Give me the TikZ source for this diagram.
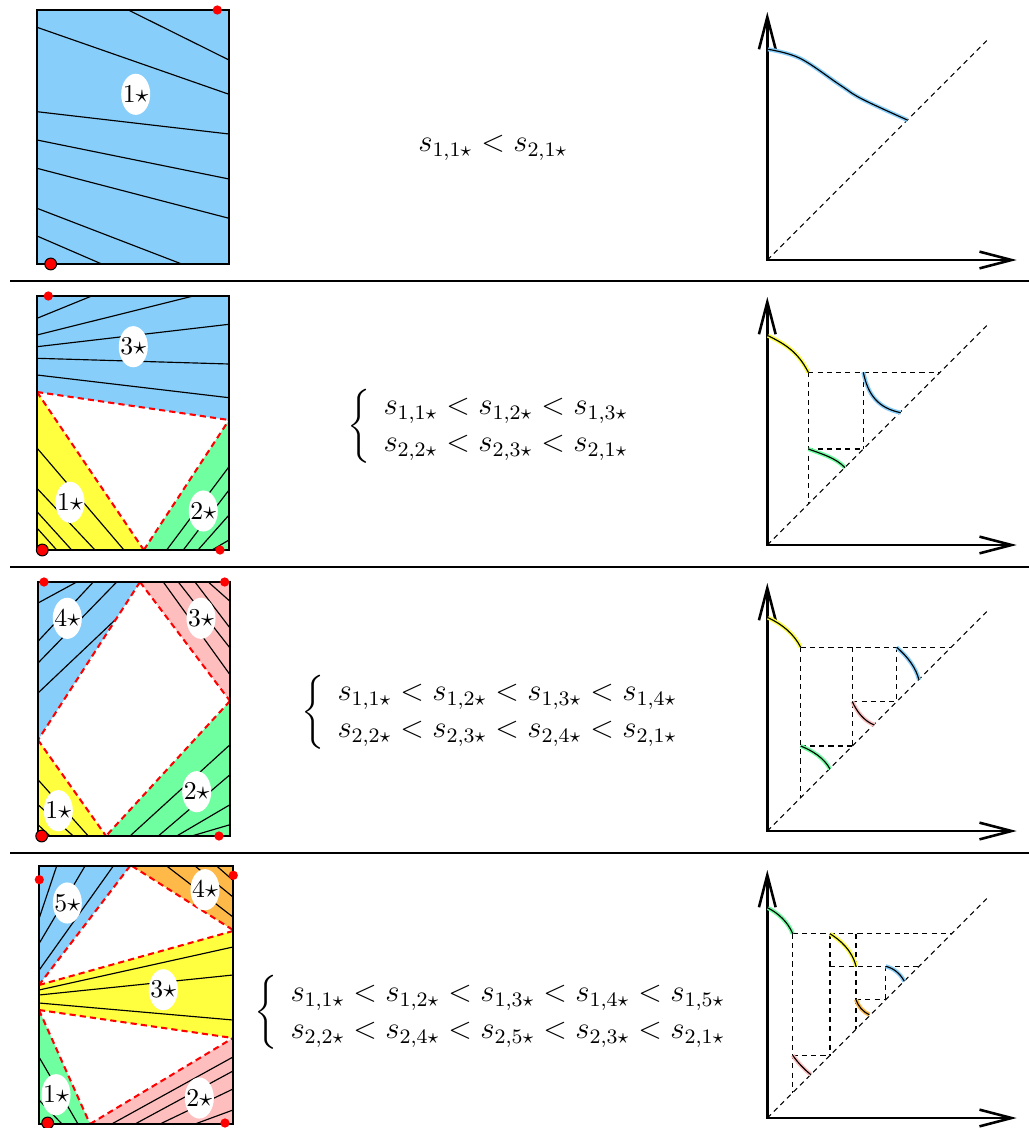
\documentclass[tikz,border=0pt]{standalone}
\usepackage{amsmath}
\usetikzlibrary{arrows.meta,shapes.geometric}
\definecolor{cblue}{RGB}{135,206,250}
\definecolor{cyellow}{RGB}{255,255,64}
\definecolor{cgreen}{RGB}{112,255,160}
\definecolor{cpink}{RGB}{255,190,190}
\definecolor{corange}{RGB}{255,185,72}
\tikzset{
 box/.style={draw=black, line width=0.8pt},
 flow/.style={black, line width=0.45pt},
 sep/.style={red, line width=0.8pt, dash pattern=on 2.4pt off 1.6pt},
 lab/.style={ellipse, fill=white, minimum width=11.3pt, minimum height=16pt, inner sep=0pt},
 sdot/.style={circle, fill=red, minimum size=3.6pt, inner sep=0pt},
 bdot/.style={circle, fill=red, draw=black, line width=0.4pt, minimum size=4.6pt, inner sep=0pt},
 axis/.style={line width=1pt, {Straight Barb[length=12.5pt,width=6.5pt]}-{Straight Barb[length=12.5pt,width=6.5pt]}},
 diag/.style={line width=0.4pt, dash pattern=on 2pt off 1.6pt},
 grid/.style={line width=0.45pt, dash pattern=on 2pt off 1.6pt},
 curve/.style={black, line width=0.45pt, preaction={draw=#1, line width=1.6pt}},
 rule/.style={line width=0.6pt},
 formula/.style={inner sep=0pt, font=\fontsize{11.5}{12}\selectfont}
}
\newcommand{\lbl}[1]{\makebox[0pt]{$#1\star$}}
\begin{document}
\begin{tikzpicture}[x=0.389pt,y=-0.389pt]
\useasboundingbox (0,0) rectangle (1029,1128);
% separators
\coordinate (r1a) at (10,281); \coordinate (r1b) at (1029,281);
\coordinate (r2a) at (10,567); \coordinate (r2b) at (1029,567);
\coordinate (r3a) at (10,853); \coordinate (r3b) at (1029,853);
\draw[rule] (r1a) -- (r1b);
\draw[rule] (r2a) -- (r2b);
\draw[rule] (r3a) -- (r3b);

% ================= ROW 1 =================
\fill[cblue] (37,10) rectangle (229,264);
\draw[flow] (128.3,10) -- (229,60);
\draw[flow] (37,27.3) -- (229,94.3);
\draw[flow] (37,111.7) -- (229,134);
\draw[flow] (37,140) -- (229,179);
\draw[flow] (37,168.3) -- (229,218.3);
\draw[flow] (37,208.3) -- (181.7,264);
\draw[flow] (37,236) -- (101.7,264);
\draw[box] (37,10) rectangle (229,264);
\node[lab] (a1) at (135.7,94.3) {\lbl{1}};
\node[sdot] (p1a) at (217.3,10) {};
\node[bdot] (p1b) at (50.7,264) {};
\node[formula] (f1) at (493,148) {$s_{1,1\star} < s_{2,1\star}$};
% graph 1
\coordinate (o1) at (767.3,260);
\coordinate (y1) at (767.3,12);
\coordinate (x1) at (1016.7,260);
\coordinate (d1) at (986.7,40.6);
\draw[diag] (o1) -- (d1);
\draw[axis] (y1) -- (o1) -- (x1);
\draw[curve=cblue] plot[smooth, tension=0.6] coordinates {(768,49.3) (800,58.3) (840,85) (862,99) (907.3,120)};

% ================= ROW 2 =================
\fill[cblue] (37,296) -- (229,296) -- (229,420) -- (37,392) -- cycle;
\fill[cyellow] (37,392) -- (143.8,550) -- (37,550) -- cycle;
\fill[cgreen] (143.8,550) -- (229,420) -- (229,550) -- cycle;
\draw[flow] (37,318.3) -- (91.7,296);
\draw[flow] (37,335) -- (193.3,296);
\draw[flow] (37,346.7) -- (229,324.3);
\draw[flow] (37,358.3) -- (229,364);
\draw[flow] (37,375) -- (229,397.7);
\draw[flow] (37,448) -- (124,550);
\draw[flow] (37,488.3) -- (95,550);
\draw[flow] (37,511.7) -- (71.7,550);
\draw[flow] (37,528) -- (56.7,550);
\draw[flow] (166.7,550) -- (229,466.7);
\draw[flow] (183.3,550) -- (229,490);
\draw[flow] (198,550) -- (229,515);
\draw[flow] (212,550) -- (229,540);
\draw[sep] (37,392) -- (229,420);
\draw[sep] (37,392) -- (143.8,550);
\draw[sep] (143.8,550) -- (229,420);
\draw[box] (37,296) rectangle (229,550);
\node[lab] (a3) at (133.3,346.7) {\lbl{3}};
\node[lab] (a1b) at (70,502.3) {\lbl{1}};
\node[lab] (a2) at (203.3,511) {\lbl{2}};
\node[sdot] (p2a) at (48.3,296) {};
\node[bdot] (p2b) at (42.3,550) {};
\node[sdot] (p2c) at (220,550) {};
\node[formula, anchor=west] (f2) at (347,426) {$\renewcommand\arraystretch{1.2}\left\{\begin{array}{l}
 s_{1,1\star} < s_{1,2\star} < s_{1,3\star}\\
 s_{2,2\star} < s_{2,3\star} < s_{2,1\star}\end{array}\right.$};
% graph 2
\coordinate (o2) at (767.3,545);
\coordinate (y2) at (767.3,297);
\coordinate (x2) at (1016.7,545);
\coordinate (d2) at (986.7,325.6);
\draw[diag] (o2) -- (d2);
\draw[axis] (y2) -- (o2) -- (x2);
\draw[grid] (808.3,372.3) -- (940,372.3);
\draw[grid] (808.3,372.3) -- (808.3,504);
\draw[grid] (863.3,372.3) -- (863.3,449);
\draw[grid] (808.3,449) -- (863.3,449);
\draw[curve=cyellow] (768,335.7) .. controls (785,344) and (798,352) .. (808.3,372.3);
\draw[curve=cblue] (863.3,372.3) .. controls (868,395) and (878,408) .. (900.7,412.7);
\draw[curve=cgreen] (808.3,449) .. controls (822,454) and (836,458) .. (845,467.7);

% ================= ROW 3 =================
\fill[cblue] (38,582) -- (140,582) -- (38,740) -- cycle;
\fill[cpink] (140,582) -- (230,582) -- (230,701) -- cycle;
\fill[cgreen] (230,701) -- (230,836) -- (106,836) -- cycle;
\fill[cyellow] (38,740) -- (106,836) -- (38,836) -- cycle;
\draw[flow] (38,603) -- (76.7,582);
\draw[flow] (38,641.3) -- (93.3,582);
\draw[flow] (38,663) -- (116.7,582);
\draw[flow] (38,693) -- (115,620);
\draw[flow] (163.3,582) -- (230,674.7);
\draw[flow] (178.3,582) -- (230,648);
\draw[flow] (195,582) -- (230,628);
\draw[flow] (208.3,582) -- (230,601.3);
\draw[flow] (130,836) -- (230,744.7);
\draw[flow] (158.3,836) -- (230,774.7);
\draw[flow] (176.7,836) -- (230,804.7);
\draw[flow] (191.7,836) -- (230,824.7);
\draw[flow] (38,779.7) -- (88.3,836);
\draw[flow] (38,804.7) -- (73.3,836);
\draw[flow] (38,824.7) -- (50,836);
\draw[sep] (140,582) -- (38,740);
\draw[sep] (140,582) -- (230,701);
\draw[sep] (230,701) -- (106,836);
\draw[sep] (38,740) -- (106,836);
\draw[box] (38,582) rectangle (230,836);
\node[lab] (b4) at (67.3,618.3) {\lbl{4}};
\node[lab] (b3) at (201,618.3) {\lbl{3}};
\node[lab] (b2) at (196.7,791.7) {\lbl{2}};
\node[lab] (b1) at (58.3,810.7) {\lbl{1}};
\node[sdot] (p3a) at (44,582) {};
\node[sdot] (p3b) at (224.7,582) {};
\node[bdot] (p3c) at (41.7,836) {};
\node[sdot] (p3d) at (219,836) {};
\node[formula, anchor=west] (f3) at (301,712) {$\renewcommand\arraystretch{1.2}\left\{\begin{array}{l}
 s_{1,1\star} < s_{1,2\star} < s_{1,3\star} < s_{1,4\star}\\
 s_{2,2\star} < s_{2,3\star} < s_{2,4\star} < s_{2,1\star}\end{array}\right.$};
% graph 3
\coordinate (o3) at (767.3,831);
\coordinate (y3) at (767.3,583);
\coordinate (x3) at (1016.7,831);
\coordinate (d3) at (986.7,611.6);
\draw[diag] (o3) -- (d3);
\draw[axis] (y3) -- (o3) -- (x3);
\draw[grid] (800.7,647.3) -- (951,647.3);
\draw[grid] (800.7,647.3) -- (800.7,797.6);
\draw[grid] (852.3,647.3) -- (852.3,746);
\draw[grid] (800.7,746) -- (852.3,746);
\draw[grid] (896.7,647.3) -- (896.7,701.6);
\draw[grid] (852.3,701.6) -- (896.7,701.6);
\draw[curve=cyellow] (768,617.7) .. controls (782,624) and (794,634) .. (800.7,647.3);
\draw[curve=cblue] (896.7,647.3) .. controls (908,657) and (916,668) .. (919,680);
\draw[curve=cpink] (852.3,701.6) .. controls (857,712) and (864,721) .. (874.3,725);
\draw[curve=cgreen] (800.7,746) .. controls (813,751) and (824,758) .. (830,769);

% ================= ROW 4 =================
\fill[cblue] (39,866) -- (130,866) -- (39,985) -- cycle;
\fill[corange] (132,866) -- (233,866) -- (233,930) -- cycle;
\fill[cyellow] (39,985) -- (233,931) -- (233,1038) -- (39,1010) -- cycle;
\fill[cgreen] (39,1010) -- (90,1124) -- (39,1124) -- cycle;
\fill[cpink] (90,1124) -- (233,1038) -- (233,1124) -- cycle;
\draw[flow] (39,918.7) -- (56.7,866);
\draw[flow] (39,943.7) -- (85,866);
\draw[flow] (39,970.3) -- (113.3,866);
\draw[flow] (166.7,866) -- (233,917);
\draw[flow] (195,866) -- (233,897);
\draw[flow] (216.7,866) -- (233,880.3);
\draw[flow] (39,990) -- (233,947);
\draw[flow] (39,995) -- (233,975);
\draw[flow] (39,1003) -- (233,1020);
\draw[flow] (39,1057) -- (78,1124);
\draw[flow] (39,1100) -- (62,1124);
\draw[flow] (111.7,1124) -- (233,1057);
\draw[flow] (135,1124) -- (233,1071);
\draw[flow] (160,1124) -- (233,1089);
\draw[flow] (195,1124) -- (233,1110);
\draw[sep] (130,866) -- (39,985);
\draw[sep] (132,866) -- (233,930);
\draw[sep] (39,985) -- (233,931);
\draw[sep] (39,1010) -- (233,1038);
\draw[sep] (39,1010) -- (90,1124);
\draw[sep] (90,1124) -- (233,1038);
\draw[box] (39,866) rectangle (233,1124);
\node[lab] (c5) at (67.3,903) {\lbl{5}};
\node[lab] (c4) at (205,889.7) {\lbl{4}};
\node[lab] (c3) at (163.3,989.7) {\lbl{3}};
\node[lab] (c1) at (56,1094.7) {\lbl{1}};
\node[lab] (c2) at (199.3,1098) {\lbl{2}};
\node[sdot] (p4a) at (39.3,879.7) {};
\node[sdot] (p4b) at (233.3,875.3) {};
\node[bdot] (p4c) at (47.7,1123) {};
\node[sdot] (p4d) at (225,1123) {};
\node[formula, anchor=west] (f4) at (254,1012.5) {$\renewcommand\arraystretch{1.2}\left\{\begin{array}{l}
 s_{1,1\star} < s_{1,2\star} < s_{1,3\star} < s_{1,4\star} < s_{1,5\star}\\
 s_{2,2\star} < s_{2,4\star} < s_{2,5\star} < s_{2,3\star} < s_{2,1\star}\end{array}\right.$};
% graph 4
\coordinate (o4) at (767.3,1118);
\coordinate (y4) at (767.3,870);
\coordinate (x4) at (1016.7,1118);
\coordinate (d4) at (986.7,898.6);
\draw[diag] (o4) -- (d4);
\draw[axis] (y4) -- (o4) -- (x4);
\draw[grid] (792.7,933.7) -- (951.6,933.7);
\draw[grid] (792.7,933.7) -- (792.7,1092.6);
\draw[grid] (830,933.7) -- (830,1055.3);
\draw[grid] (792.7,1055.3) -- (830,1055.3);
\draw[grid] (856,933.7) -- (856,1029.3);
\draw[grid] (830,966.3) -- (918.9,966.3);
\draw[grid] (885.7,966.3) -- (885.7,999.6);
\draw[grid] (856,999.6) -- (885.7,999.6);
\draw[curve=cgreen] (768,908) .. controls (778,913) and (788,922) .. (792.7,933.7);
\draw[curve=cyellow] (830,933.7) .. controls (840,940) and (852,950) .. (856,966.3);
\draw[curve=cblue] (885.7,966.3) .. controls (893,968) and (900,973) .. (904.3,981.3);
\draw[curve=corange] (856,999.6) .. controls (858,1006) and (863,1012) .. (869.3,1014.7);
\draw[curve=cpink] (792.7,1055.3) .. controls (798,1063) and (805,1070) .. (811,1074.7);
\end{tikzpicture}
\end{document}
